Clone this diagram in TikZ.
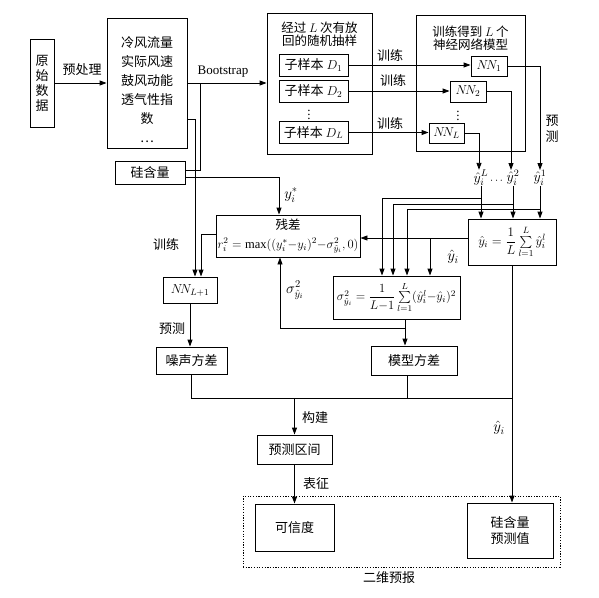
\RequirePackage{fix-cm}
\documentclass[tikz,border=0pt]{standalone}
\usepackage{amsmath}
\usepackage{fontspec}
\setmainfont{Liberation Serif}
\newfontfamily\cjk{Noto Sans CJK SC}
\usetikzlibrary{arrows.meta}
\begin{document}
\begin{tikzpicture}[x=1pt,y=-1pt, line width=0.9pt,
 font=\fontsize{13}{15}\selectfont,
 box/.style={draw, inner sep=0pt, align=center, font=\fontsize{13}{16}\cjk},
 lbl/.style={inner sep=1pt, font=\fontsize{13}{15}\cjk},
 mlbl/.style={inner sep=1pt, font=\fontsize{15}{17}\selectfont},
 ylbl/.style={inner sep=0pt, font=\fontsize{14}{16}\selectfont},
 arr/.style={-{Stealth[length=7pt,width=5pt,inset=0pt]}},
]
\useasboundingbox (0,0) rectangle (599,597);

% boxes
\node[box, minimum width=24, minimum height=88, font=\fontsize{13}{15}\cjk] (raw) at (42,83) {原\\始\\数\\据};
\node[box, minimum width=80, minimum height=130] (feat) at (147,83) {};
\node[lbl, align=center, font=\fontsize{13}{19}\cjk] (feattxt) at (147,90) {冷风流量\\实际风速\\鼓风动能\\透气性指\\数\\\ldots};
\node[box, minimum width=70, minimum height=23] (sil) at (150,172.5) {硅含量};

\node[box, minimum width=105, minimum height=141] (bag) at (319.5,83.5) {};
\node[lbl, align=center, font=\fontsize{12.5}{13}\cjk] (bagt) at (319.5,34) {经过 $L$ 次有放\\回的随机抽样};
\node[box, minimum width=69, minimum height=22] (d1) at (313.5,65) {子样本 $D_1$};
\node[box, minimum width=69, minimum height=22] (d2) at (313.5,91) {子样本 $D_2$};
\node[box, minimum width=69, minimum height=22] (dl) at (313.5,132.5) {子样本 $D_L$};
\node[inner sep=1pt] (ddots) at (309,112) {$\vdots$};

\node[box, minimum width=109, minimum height=136] (nnb) at (470.5,83) {};
\node[lbl, align=center, font=\fontsize{12.5}{13}\cjk] (nnbt) at (470.5,38.5) {训练得到 $L$ 个\\神经网络模型};
\node[box, minimum width=36, minimum height=20] (nn1) at (489,66) {$N\!N_1$};
\node[box, minimum width=36, minimum height=21] (nn2) at (468,91.5) {$N\!N_2$};
\node[box, minimum width=35, minimum height=20] (nnl) at (446.5,133) {$N\!N_L$};
\node[inner sep=1pt] (nndots) at (458,113) {$\vdots$};

\node[ylbl] (yL) at (481,178) {$\hat y^L_i$};
\node[inner sep=0pt, font=\fontsize{11}{13}\selectfont] (ydots) at (497.5,181) {$\cdots$};
\node[ylbl] (y2) at (513,178) {$\hat y^2_i$};
\node[ylbl] (y1) at (540,178) {$\hat y^1_i$};

\node[box, minimum width=144, minimum height=42, font=\fontsize{12.5}{19}\cjk] (resid) at (288,236) {残差\\$r_i^2=\max((y^*_i{-}y_i)^2{-}\sigma^2_{\hat y_i},0)$};
\node[box, minimum width=88, minimum height=46] (yhat) at (512,242) {$\hat y_i=\dfrac{1}{L}\sum\limits_{l=1}^{L}\hat y^l_i$};
\node[box, minimum width=127, minimum height=43, font=\fontsize{12.5}{14}\selectfont] (sigma) at (396.5,297.5) {$\sigma^2_{\hat y_i}=\dfrac{1}{L{-}1}\sum\limits_{l=1}^{L}(\hat y^l_i{-}\hat y_i)^2$};
\node[box, minimum width=54, minimum height=26] (nnl1) at (190,290) {$N\!N_{L+1}$};
\node[box, minimum width=71, minimum height=27] (noise) at (191.5,360.5) {噪声方差};
\node[box, minimum width=86, minimum height=29] (model) at (414,360.5) {模型方差};
\node[box, minimum width=75, minimum height=29] (PI) at (294.5,449.5) {预测区间};
\node[box, minimum width=79, minimum height=47] (cred) at (294.5,527.5) {可信度};
\node[box, minimum width=86, minimum height=55] (sipred) at (510,530.5) {硅含量\\预测值};
\node[draw, dash pattern=on 1.2pt off 1.5pt, line width=0.8pt, minimum width=317, minimum height=71, inner sep=0pt] (twod) at (401.5,531.5) {};
\node[lbl] (twodl) at (389,578) {二维预报};

% connectors
\draw[arr] (raw.east) -- (feat.west);
\node[lbl] (lpre) at (82,70) {预处理};
\draw[arr] (feat.east) -- (feat.east -| bag.west);
\node[inner sep=1pt] (lboot) at (223,72) {Bootstrap};
\coordinate (bj) at (200,83);
\draw ([yshift=2.5pt]sil.east) -| (bj);
\draw[arr] ([yshift=-36pt]feat.east) -| ([xshift=5pt]nnl1.north);
\draw[arr] ([yshift=-4.5pt]sil.east) -| ([xshift=-9pt]resid.north);
\node[mlbl] (lystar) at (291,195) {$y^*_i$};
\draw[arr] ([yshift=2pt]resid.west) -| ([xshift=11pt]nnl1.north);
\node[lbl] (ltrain0) at (166,245) {训练};
\draw[arr] (nnl1.south) -- (nnl1.south |- noise.north);
\node[lbl] (lpred0) at (172,329) {预测};

\draw[arr] (d1.east) -- (d1.east -| nn1.west);
\draw[arr] (d2.east) -- (d2.east -| nn2.west);
\draw[arr] (dl.east) -- (dl.east -| nnl.west);
\node[lbl] (lt1) at (390,56) {训练};
\node[lbl] (lt2) at (393,81) {训练};
\node[lbl] (lt3) at (390,124) {训练};

\draw[arr] (nn1.east) -| (y1.north);
\draw[arr] (nn2.east) -| ([xshift=-2pt]y2.north);
\draw[arr] (nnl.east) -| ([xshift=-2pt]yL.north);
\node[lbl, align=center, font=\fontsize{13}{16}\cjk] (lpred1) at (552,129) {预\\测};

\draw[arr] (yL.south) -- (yL.south |- yhat.north);
\draw[arr] (y2.south) -- (y2.south |- yhat.north);
\draw[arr] (y1.south) -- (y1.south |- yhat.north);
\coordinate (bL) at (yL.south |- 0,198);
\coordinate (b2) at (y2.south |- 0,204);
\coordinate (b1) at (y1.south |- 0,209);
\draw[arr] (bL) -| ([xshift=-14.5pt]sigma.north);
\draw[arr] (b2) -| ([xshift=-3.5pt]sigma.north);
\draw[arr] (b1) -| ([xshift=10.5pt]sigma.north);

\coordinate (yw) at ([yshift=4pt]yhat.west);
\draw[arr] (yw) -- (yw -| resid.east);
\coordinate (yb) at (430,238);
\draw[arr] (yb) -- (yb |- sigma.north);
\node[mlbl] (lyh1) at (453,257) {$\hat y_i$};

\coordinate (so) at ([xshift=8.5pt]sigma.south);
\draw[arr] (so) -- (so |- model.north);
\coordinate (sb) at (405,328);
\draw[arr] (sb) -| ([xshift=-8pt]resid.south);
\node[mlbl] (lsig) at (295,290) {$\sigma^2_{\hat y_i}$};

\coordinate (hl) at (512,398);
\draw (noise.south) |- (hl);
\draw ([xshift=-7pt]model.south) -- ([xshift=-7pt]model.south |- hl);
\draw[arr] (PI.north |- hl) -- (PI.north);
\node[lbl] (lbuild) at (315,418) {构建};
\draw[arr] (PI.south) -- (cred.north);
\node[lbl] (lchar) at (316,484) {表征};
\draw[arr] (yhat.south) -- (yhat.south |- sipred.north);
\node[mlbl] (lyh2) at (499,428) {$\hat y_i$};
\end{tikzpicture}
\end{document}
